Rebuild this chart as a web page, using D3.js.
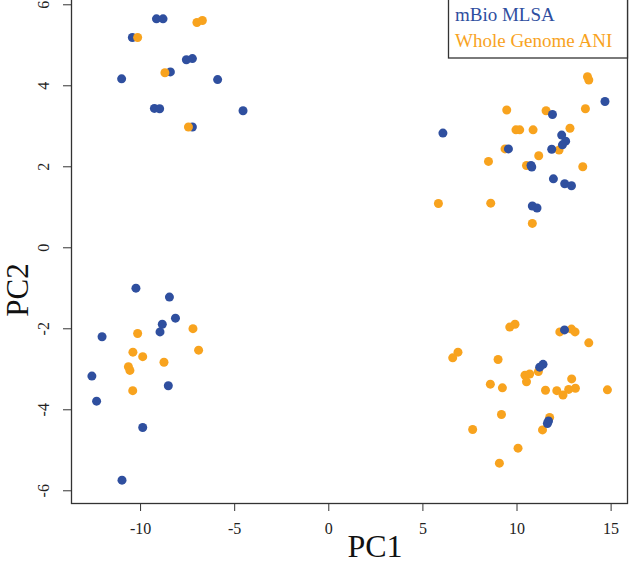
<!DOCTYPE html>
<html>
<head>
<meta charset="utf-8">
<script src="https://cdn.jsdelivr.net/npm/d3@7"></script>
<style>
html,body{margin:0;padding:0;background:#fff;}
svg{display:block;}
</style>
</head>
<body>
<svg id="chart" width="629" height="570"></svg>
<script>
// ---- data ----
const seriesNames = ["mBio MLSA", "Whole Genome ANI"];
const seriesColors = ["#2F4F9F", "#F8A31E"];

const mlsaX = [-9.13,-8.78,-10.41,-7.54,-7.22,-8.39,-10.98,-5.88,-9.24,-8.96,-4.53,-7.22,
  14.70,11.91,6.09,12.40,12.61,12.44,9.57,11.87,10.77,10.81,11.96,12.56,12.92,10.84,11.09,
  -10.22,-8.44,-8.12,-8.82,-8.94,-12.02,-12.56,-8.50,-12.31,-9.86,-10.96,
  12.55,11.41,11.23,11.70,11.64];
const mlsaY = [5.64,5.64,5.18,4.63,4.66,4.33,4.16,4.14,3.43,3.42,3.37,2.97,
  3.60,3.28,2.82,2.77,2.62,2.53,2.43,2.42,2.02,1.98,1.69,1.57,1.52,1.02,0.97,
  -1.01,-1.23,-1.75,-1.90,-2.09,-2.21,-3.18,-3.42,-3.80,-4.45,-5.75,
  -2.04,-2.89,-2.96,-4.29,-4.35];

const aniX = [-6.98,-6.69,-10.13,-8.68,-7.43,
  13.77,13.84,9.48,11.57,13.66,9.97,10.17,10.88,12.84,9.39,12.26,11.18,8.51,10.53,13.52,5.85,8.63,10.84,
  -7.19,-10.13,-6.89,-10.38,-9.86,-8.73,-10.62,-10.54,-10.39,
  9.64,9.92,12.30,12.92,13.11,13.84,6.89,6.61,9.02,11.16,10.45,10.70,10.53,12.93,8.61,9.25,11.54,12.14,
  12.47,12.77,13.13,14.83,9.20,11.76,11.38,7.67,10.08,9.09];
const aniY = [5.55,5.60,5.18,4.31,2.97,
  4.21,4.13,3.39,3.37,3.42,2.90,2.90,2.90,2.94,2.43,2.40,2.26,2.12,2.02,1.99,1.08,1.09,0.59,
  -2.01,-2.13,-2.54,-2.59,-2.70,-2.84,-2.95,-3.04,-3.54,
  -1.97,-1.90,-2.09,-2.02,-2.09,-2.36,-2.59,-2.73,-2.77,-3.07,-3.16,-3.13,-3.32,-3.25,-3.38,-3.47,-3.53,-3.54,
  -3.65,-3.51,-3.48,-3.52,-4.13,-4.20,-4.51,-4.50,-4.96,-5.33];

const xTicks = [-10, -5, 0, 5, 10, 15];
const yTicks = [-6, -4, -2, 0, 2, 4, 6];
const xTitle = "PC1", yTitle = "PC2";

// ---- layout ----
const svg = d3.select("#chart");
const L = 71, R = 627, T = 0, B = 503;
const x = d3.scaleLinear().domain([-13.67, 15.87]).range([L, R]);
const y = d3.scaleLinear().domain([-6.314, 6.106]).range([B, T]);
const serif = "'Liberation Serif','Times New Roman',serif";
const fmt = d => String(d);

// points: blue on the left drawn first, then orange, then blue on the right
const pts = [];
mlsaX.forEach((v, i) => pts.push({x: v, y: mlsaY[i], s: 0, layer: v < 0 ? 0 : 2}));
aniX.forEach((v, i) => pts.push({x: v, y: aniY[i], s: 1, layer: 1}));
pts.sort((a, b) => a.layer - b.layer);

svg.append("g").selectAll("circle").data(pts).join("circle")
  .attr("cx", d => x(d.x)).attr("cy", d => y(d.y)).attr("r", 4.5)
  .attr("fill", d => seriesColors[d.s]);

// axes
const xAxis = svg.append("g").attr("transform", `translate(0,${B})`)
  .call(d3.axisBottom(x).tickValues(xTicks).tickSize(8).tickPadding(12).tickFormat(fmt));
const yAxis = svg.append("g").attr("transform", `translate(${L},0)`)
  .call(d3.axisLeft(y).tickValues(yTicks).tickSize(8).tickPadding(6).tickFormat(fmt));
[xAxis, yAxis].forEach(a => {
  a.select(".domain").remove();
  a.selectAll(".tick line").attr("stroke", "#333").attr("stroke-width", 1);
  a.selectAll("text").attr("fill", "#222").style("font-family", serif).style("font-size", "16px");
});
xAxis.selectAll("text").attr("dy", "0.71em");
yAxis.selectAll(".tick text")
  .attr("text-anchor", "middle").attr("x", null).attr("dy", null)
  .attr("transform", "translate(-22,0) rotate(-90)")
  .attr("y", 0);

// plot frame
svg.append("rect").attr("x", L + 0.5).attr("y", T - 1).attr("width", R - L).attr("height", B - T + 1.5)
  .attr("fill", "none").attr("stroke", "#333").attr("stroke-width", 1.3);

// axis titles
svg.append("text").attr("x", 375).attr("y", 557).attr("text-anchor", "middle")
  .style("font-family", serif).style("font-size", "32px").attr("fill", "#111").text(xTitle);
svg.append("text").attr("transform", "translate(28,290) rotate(-90)").attr("text-anchor", "middle")
  .style("font-family", serif).style("font-size", "31px").attr("fill", "#111").text(yTitle);

// legend
svg.append("rect").attr("x", 448.5).attr("y", -10).attr("width", R + 0.5 - 448.5).attr("height", 68)
  .attr("fill", "#fff").attr("stroke", "#333").attr("stroke-width", 1.3);
seriesNames.forEach((n, i) => {
  svg.append("text").attr("x", 455).attr("y", 20.5 + i * 26.5)
    .style("font-family", serif).style("font-size", "19px")
    .attr("fill", seriesColors[i]).text(n);
});
</script>
</body>
</html>
